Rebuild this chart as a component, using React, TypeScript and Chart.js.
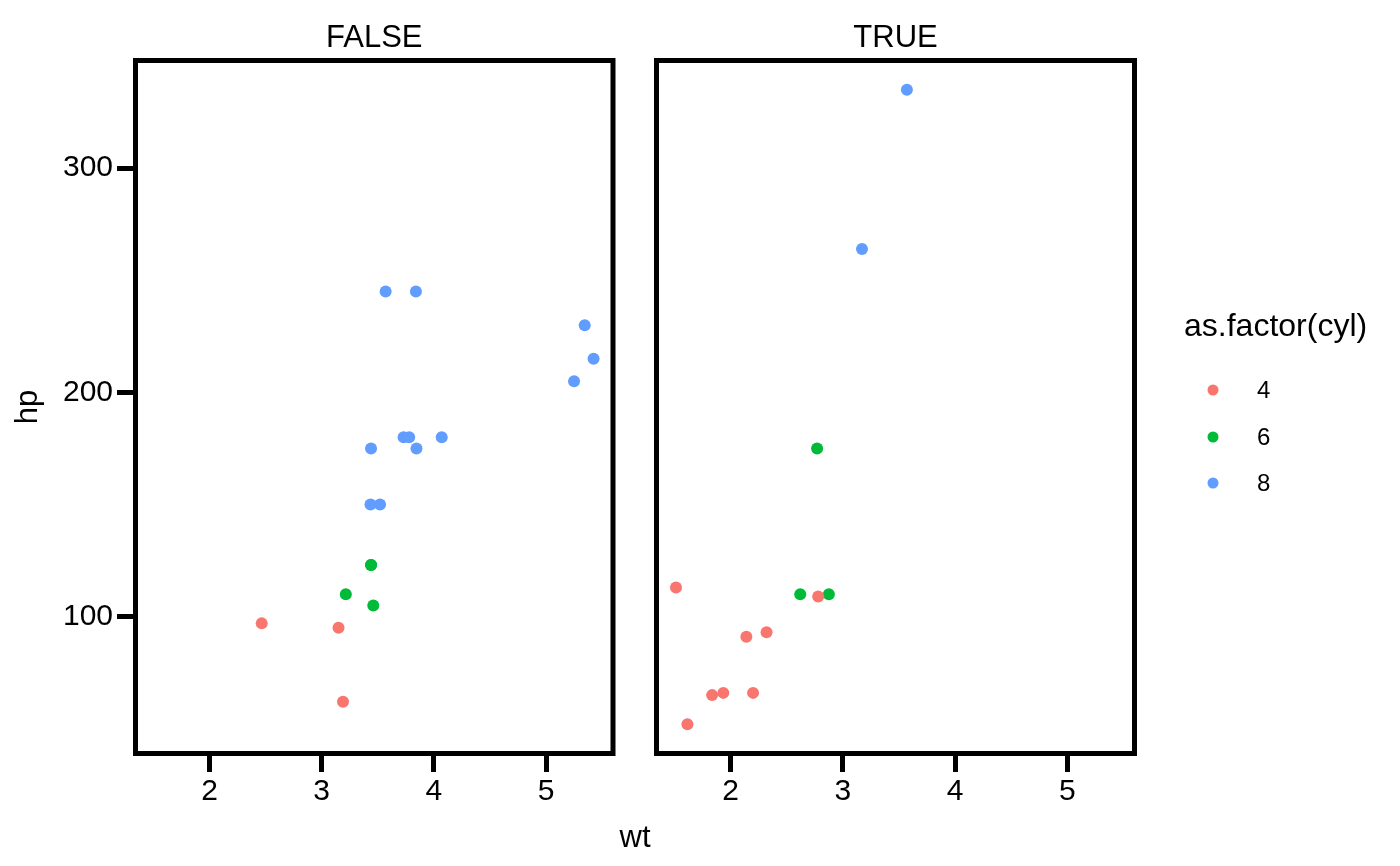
import React, { useEffect, useRef } from 'react';
import { Chart, registerables } from 'chart.js';

Chart.register(...registerables);

// ---- data (mtcars, faceted by am) ----
const cylLevels = ['4', '6', '8'];
const cylColors = ['#F8766D', '#00BA38', '#619CFF'];
const facetLabels = ['FALSE', 'TRUE'];
const xTicks = [2, 3, 4, 5];
const yTicks = [100, 200, 300];
const xRange = [1.31745, 5.61955];
const yRange = [37.85, 349.15];

// am = FALSE
const falseWt4 = [3.19, 3.15, 2.465];
const falseHp4 = [62, 95, 97];
const falseWt6 = [3.215, 3.46, 3.44, 3.44];
const falseHp6 = [110, 105, 123, 123];
const falseWt8 = [3.44, 3.57, 4.07, 3.73, 3.78, 5.25, 5.424, 5.345, 3.52, 3.435, 3.84, 3.845];
const falseHp8 = [175, 245, 180, 180, 180, 205, 215, 230, 150, 150, 245, 175];

// am = TRUE
const trueWt4 = [2.32, 2.2, 1.615, 1.835, 1.935, 2.14, 1.513, 2.78];
const trueHp4 = [93, 66, 52, 65, 66, 91, 113, 109];
const trueWt6 = [2.62, 2.875, 2.77];
const trueHp6 = [110, 110, 175];
const trueWt8 = [3.17, 3.57];
const trueHp8 = [264, 335];

const FONT = '"Liberation Sans", Arial, Helvetica, sans-serif';
const W = 1400;
const H = 866;

const zip = (xs: number[], ys: number[]) => xs.map((x, i) => ({ x, y: ys[i] }));

const makeDatasets = (groups: [number[], number[]][]) =>
  groups.map(([xs, ys], i) => ({
    label: cylLevels[i],
    data: zip(xs, ys),
    backgroundColor: cylColors[i],
    borderWidth: 0,
    pointRadius: 6,
    pointHoverRadius: 6,
    pointStyle: 'circle' as const,
  }));

function buildConfig(
  facet: number,
  datasets: any[],
  padding: { left: number; right: number },
  showY: boolean,
  extra: (ctx: CanvasRenderingContext2D) => void
): any {
  const deco = {
    id: 'panelDeco' + facet,
    afterDraw(chart: any) {
      const { ctx, chartArea } = chart;
      const { left, top, right, bottom } = chartArea;
      ctx.save();
      ctx.strokeStyle = '#000';
      ctx.lineWidth = 5;
      ctx.strokeRect(left + 2.5, top + 2.5, right - left - 5, bottom - top - 5);
      ctx.fillStyle = '#000';
      ctx.font = `31px ${FONT}`;
      ctx.textAlign = 'center';
      ctx.textBaseline = 'alphabetic';
      ctx.fillText(facetLabels[facet], (left + right) / 2, 47);
      extra(ctx);
      ctx.restore();
    },
  };
  return {
    type: 'scatter',
    data: { datasets },
    plugins: [deco],
    options: {
      animation: false,
      responsive: false,
      devicePixelRatio: 1,
      events: [],
      layout: { padding: { left: padding.left, right: padding.right, top: 58, bottom: 50 } },
      plugins: { legend: { display: false }, tooltip: { enabled: false }, title: { display: false } },
      scales: {
        x: {
          type: 'linear',
          min: xRange[0],
          max: xRange[1],
          afterBuildTicks: (s: any) => {
            s.ticks = xTicks.map((v) => ({ value: v }));
          },
          afterFit: (s: any) => {
            s.height = 60;
          },
          grid: { display: true, drawOnChartArea: false, drawTicks: true, tickLength: 16, lineWidth: 5, color: '#000' },
          border: { display: false },
          ticks: { color: '#000', font: { family: FONT, size: 30 }, padding: 2, maxRotation: 0, autoSkip: false },
        },
        y: {
          type: 'linear',
          display: showY,
          min: yRange[0],
          max: yRange[1],
          afterBuildTicks: (s: any) => {
            s.ticks = yTicks.map((v) => ({ value: v }));
          },
          afterFit: (s: any) => {
            s.width = showY ? 133 : 0;
          },
          grid: { display: true, drawOnChartArea: false, drawTicks: true, tickLength: 16, lineWidth: 5, color: '#000' },
          border: { display: false },
          ticks: { color: '#000', font: { family: FONT, size: 30 }, padding: 4, autoSkip: false },
        },
      },
    },
  };
}

export default function App() {
  const leftRef = useRef<HTMLCanvasElement | null>(null);
  const rightRef = useRef<HTMLCanvasElement | null>(null);

  useEffect(() => {
    const leftExtra = (ctx: CanvasRenderingContext2D) => {
      ctx.font = `31px ${FONT}`;
      ctx.fillStyle = '#000';
      ctx.textAlign = 'center';
      ctx.textBaseline = 'alphabetic';
      ctx.fillText('wt', 635, 846.5);
      ctx.save();
      ctx.translate(37, 407);
      ctx.rotate(-Math.PI / 2);
      ctx.fillText('hp', 0, 0);
      ctx.restore();
    };
    const rightExtra = (ctx: CanvasRenderingContext2D) => {
      ctx.fillStyle = '#000';
      ctx.font = `32px ${FONT}`;
      ctx.textAlign = 'left';
      ctx.textBaseline = 'alphabetic';
      ctx.fillText('as.factor(cyl)', 1184, 336);
      const ys = [390, 437, 483];
      cylLevels.forEach((lab, i) => {
        ctx.beginPath();
        ctx.fillStyle = cylColors[i];
        ctx.arc(1213, ys[i], 5.5, 0, Math.PI * 2);
        ctx.fill();
        ctx.fillStyle = '#000';
        ctx.font = `24px ${FONT}`;
        ctx.textBaseline = 'middle';
        ctx.fillText(lab, 1257, ys[i] + 1);
      });
    };

    const left = new Chart(
      leftRef.current as HTMLCanvasElement,
      buildConfig(
        0,
        makeDatasets([
          [falseWt4, falseHp4],
          [falseWt6, falseHp6],
          [falseWt8, falseHp8],
        ]),
        { left: 0, right: W - 615.5 },
        true,
        leftExtra
      )
    );
    const right = new Chart(
      rightRef.current as HTMLCanvasElement,
      buildConfig(
        1,
        makeDatasets([
          [trueWt4, trueHp4],
          [trueWt6, trueHp6],
          [trueWt8, trueHp8],
        ]),
        { left: 654, right: W - 1137 },
        false,
        rightExtra
      )
    );
    return () => {
      left.destroy();
      right.destroy();
    };
  }, []);

  const canvasStyle: React.CSSProperties = { position: 'absolute', left: 0, top: 0, width: W, height: H };
  return (
    <div style={{ position: 'absolute', left: 0, top: 0, width: W, height: H, background: '#fff' }}>
      <canvas ref={leftRef} width={W} height={H} style={canvasStyle} />
      <canvas ref={rightRef} width={W} height={H} style={canvasStyle} />
    </div>
  );
}
